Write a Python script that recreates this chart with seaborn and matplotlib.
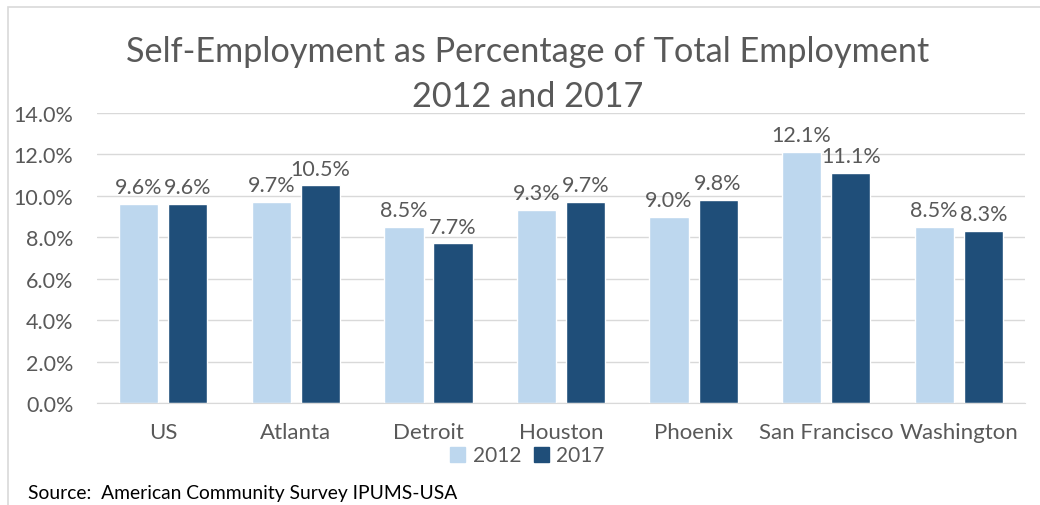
import matplotlib
matplotlib.use("Agg")
import matplotlib.pyplot as plt
import matplotlib.patches as mpatches
import seaborn as sns
import pandas as pd

cities = ["US", "Atlanta", "Detroit", "Houston", "Phoenix", "San Francisco", "Washington"]
share_2012 = [9.6, 9.7, 8.5, 9.3, 9.0, 12.1, 8.5]
share_2017 = [9.6, 10.5, 7.7, 9.7, 9.8, 11.1, 8.3]
years = ["2012", "2017"]
yticks = [0, 2, 4, 6, 8, 10, 12, 14]

df = pd.DataFrame({
    "city": cities * 2,
    "year": [years[0]] * len(cities) + [years[1]] * len(cities),
    "share": share_2012 + share_2017,
})

sns.set_style("white")
plt.rcParams["font.family"] = ["Lato", "DejaVu Sans"]
grey = "#595959"

fig = plt.figure(figsize=(10.4, 5.06), dpi=100)
ax = fig.add_axes([0.0933, 0.2016, 0.8923, 0.5731])

palette = {"2012": "#BDD7EE", "2017": "#1F4E79"}
sns.barplot(data=df, x="city", y="share", hue="year", palette=palette,
            width=0.74, gap=0.2, ax=ax, saturation=1, legend=False)

for cont in ax.containers:
    ax.bar_label(cont, labels=[f"{v:.1f}%" for v in cont.datavalues],
                 padding=5, fontsize=15.5, color=grey)

ax.set_ylim(0, 14)
ax.set_yticks(yticks)
ax.set_yticklabels([f"{t:.1f}%" for t in yticks])
ax.set_xlim(-0.5, len(cities) - 0.5)
ax.grid(axis="y", color="#D9D9D9", linewidth=1)
ax.set_axisbelow(True)
for s in ["top", "right", "left"]:
    ax.spines[s].set_visible(False)
ax.spines["bottom"].set_color("#D9D9D9")
ax.tick_params(axis="y", length=0, pad=17, labelsize=15.5, labelcolor=grey)
ax.tick_params(axis="x", length=0, pad=14, labelsize=16, labelcolor=grey)
ax.set_xlabel("")
ax.set_ylabel("")

handles = [mpatches.Patch(color=palette[y], label=y) for y in years]
fig.legend(handles=handles, loc="center", bbox_to_anchor=(0.507, 0.098), ncol=2,
           frameon=False, fontsize=15, labelcolor=grey, handlelength=0.75,
           handleheight=0.75, handletextpad=0.35, columnspacing=0.6)

fig.text(0.507, 0.852, "Self-Employment as Percentage of Total Employment\n2012 and 2017",
         ha="center", va="center", fontsize=24.7, color=grey, linespacing=1.5)
fig.text(0.027, 0.024, "Source:  American Community Survey IPUMS-USA",
         ha="left", va="center", fontsize=13.9, color="black")

fig.patches.append(mpatches.Rectangle((0.008, -0.01), 1.1, 0.995, transform=fig.transFigure,
                                      fill=False, edgecolor="#D9D9D9", linewidth=1.2))

fig.savefig("out.png", dpi=100)
